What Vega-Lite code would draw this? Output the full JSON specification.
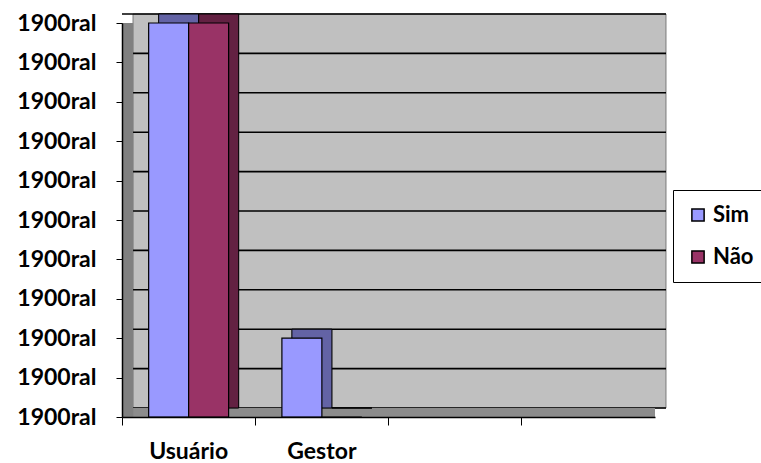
{
  "$schema": "https://vega.github.io/schema/vega-lite/v6.json",
  "width": 533,
  "height": 394,
  "autosize": "none",
  "padding": {"left": 122, "top": 23, "right": 106, "bottom": 46},
  "background": "white",
  "config": {
    "view": {"fill": null, "stroke": null},
    "font": "Lato"
  },
  "datasets": {
    "respostas": [
      {"grupo": "Usuário", "resposta": "Sim", "valor": 10},
      {"grupo": "Usuário", "resposta": "Não", "valor": 10},
      {"grupo": "Gestor", "resposta": "Sim", "valor": 2},
      {"grupo": "Gestor", "resposta": "Não", "valor": 0}
    ],
    "parede": [{"de": 0, "ate": 10}],
    "grade": [{"g": 0}, {"g": 1}, {"g": 2}, {"g": 3}, {"g": 4}, {"g": 5}, {"g": 6}, {"g": 7}, {"g": 8}, {"g": 9}, {"g": 10}]
  },
  "data": {"name": "respostas"},
  "encoding": {
    "x": {
      "field": "grupo",
      "type": "nominal",
      "sort": null,
      "scale": {"domain": ["Usuário", "Gestor", "c3", "c4"], "paddingInner": 0.4, "paddingOuter": 0.2},
      "axis": {
        "title": null,
        "labelAngle": 0,
        "labelExpr": "datum.value == 'c3' || datum.value == 'c4' ? '' : datum.value",
        "labelFont": "Lato",
        "labelFontWeight": "bold",
        "labelFontSize": 23,
        "labelColor": "black",
        "labelPadding": 15,
        "bandPosition": -0.333,
        "tickColor": "black",
        "tickSize": 8,
        "domainColor": "black",
        "domainWidth": 1.5,
        "grid": false,
        "zindex": 1
      }
    },
    "y": {
      "field": "valor",
      "type": "quantitative",
      "scale": {"domain": [0, 10], "nice": false},
      "axis": {
        "title": null,
        "values": [0, 1, 2, 3, 4, 5, 6, 7, 8, 9, 10],
        "labelExpr": "'1900ral'",
        "labelOverlap": false,
        "labelFont": "Lato",
        "labelFontWeight": "bold",
        "labelFontSize": 23,
        "labelColor": "black",
        "labelPadding": 20,
        "tickColor": "black",
        "tickSize": 6,
        "domainColor": "black",
        "domainWidth": 1.5,
        "grid": false,
        "zindex": 1
      }
    }
  },
  "resolve": {"scale": {"xOffset": "independent"}},
  "layer": [
    {
      "data": {"name": "parede"},
      "mark": {"type": "rect", "fill": "#C0C0C0", "stroke": "#7A7A7A", "strokeWidth": 1, "xOffset": 11, "x2Offset": 11, "yOffset": -9, "y2Offset": -9},
      "encoding": {
        "x": {"datum": "Usuário", "bandPosition": -0.333},
        "x2": {"datum": "c4", "bandPosition": 1.333},
        "y": {"field": "de", "type": "quantitative"},
        "y2": {"field": "ate"}
      }
    },
    {
      "data": {"name": "grade"},
      "mark": {"type": "rule", "color": "black", "strokeWidth": 1.6, "xOffset": 11, "x2Offset": 11, "yOffset": -9},
      "encoding": {"y": {"field": "g", "type": "quantitative"}, "x": null}
    },
    {
      "mark": {"type": "rule", "color": "#8C8C8C", "strokeWidth": 9, "yOffset": -4.5},
      "encoding": {"y": {"datum": 0, "type": "quantitative"}, "x": null}
    },
    {
      "mark": {"type": "rule", "color": "#808080", "strokeWidth": 11, "xOffset": 5.5},
      "encoding": {"x": {"datum": "Usuário", "bandPosition": -0.333}, "y": null}
    },
    {
      "mark": {"type": "bar", "strokeWidth": 1, "stroke": "black", "yOffset": -9},
      "encoding": {
        "xOffset": {"field": "resposta", "type": "nominal", "scale": {"domain": ["Sim", "Não"], "paddingInner": 0, "range": [10, 90]}},
        "color": {"field": "resposta", "type": "nominal"}
      }
    },
    {
      "mark": {"type": "bar", "strokeWidth": 1, "stroke": "black", "yOffset": -9, "color": "black", "opacity": 0.35},
      "encoding": {
        "xOffset": {"field": "resposta", "type": "nominal", "scale": {"domain": ["Sim", "Não"], "paddingInner": 0, "range": [10, 90]}}
      }
    },
    {
      "mark": {"type": "bar", "strokeWidth": 1.2, "stroke": "black"},
      "encoding": {
        "xOffset": {"field": "resposta", "type": "nominal", "scale": {"domain": ["Sim", "Não"], "paddingInner": 0}},
        "color": {
          "field": "resposta",
          "type": "nominal",
          "scale": {"domain": ["Sim", "Não"], "range": ["#9999FF", "#993366"]},
          "legend": {
            "title": null,
            "orient": "none",
            "legendX": 551,
            "legendY": 167,
            "strokeColor": "black",
            "fillColor": "white",
            "padding": 14,
            "symbolType": "square",
            "symbolSize": 150,
            "symbolStrokeColor": "black",
            "symbolStrokeWidth": 1.5,
            "labelFont": "Lato",
            "labelFontWeight": "bold",
            "labelFontSize": 22,
            "labelColor": "black",
            "rowPadding": 20,
            "labelOffset": 4
          }
        }
      }
    }
  ]
}
